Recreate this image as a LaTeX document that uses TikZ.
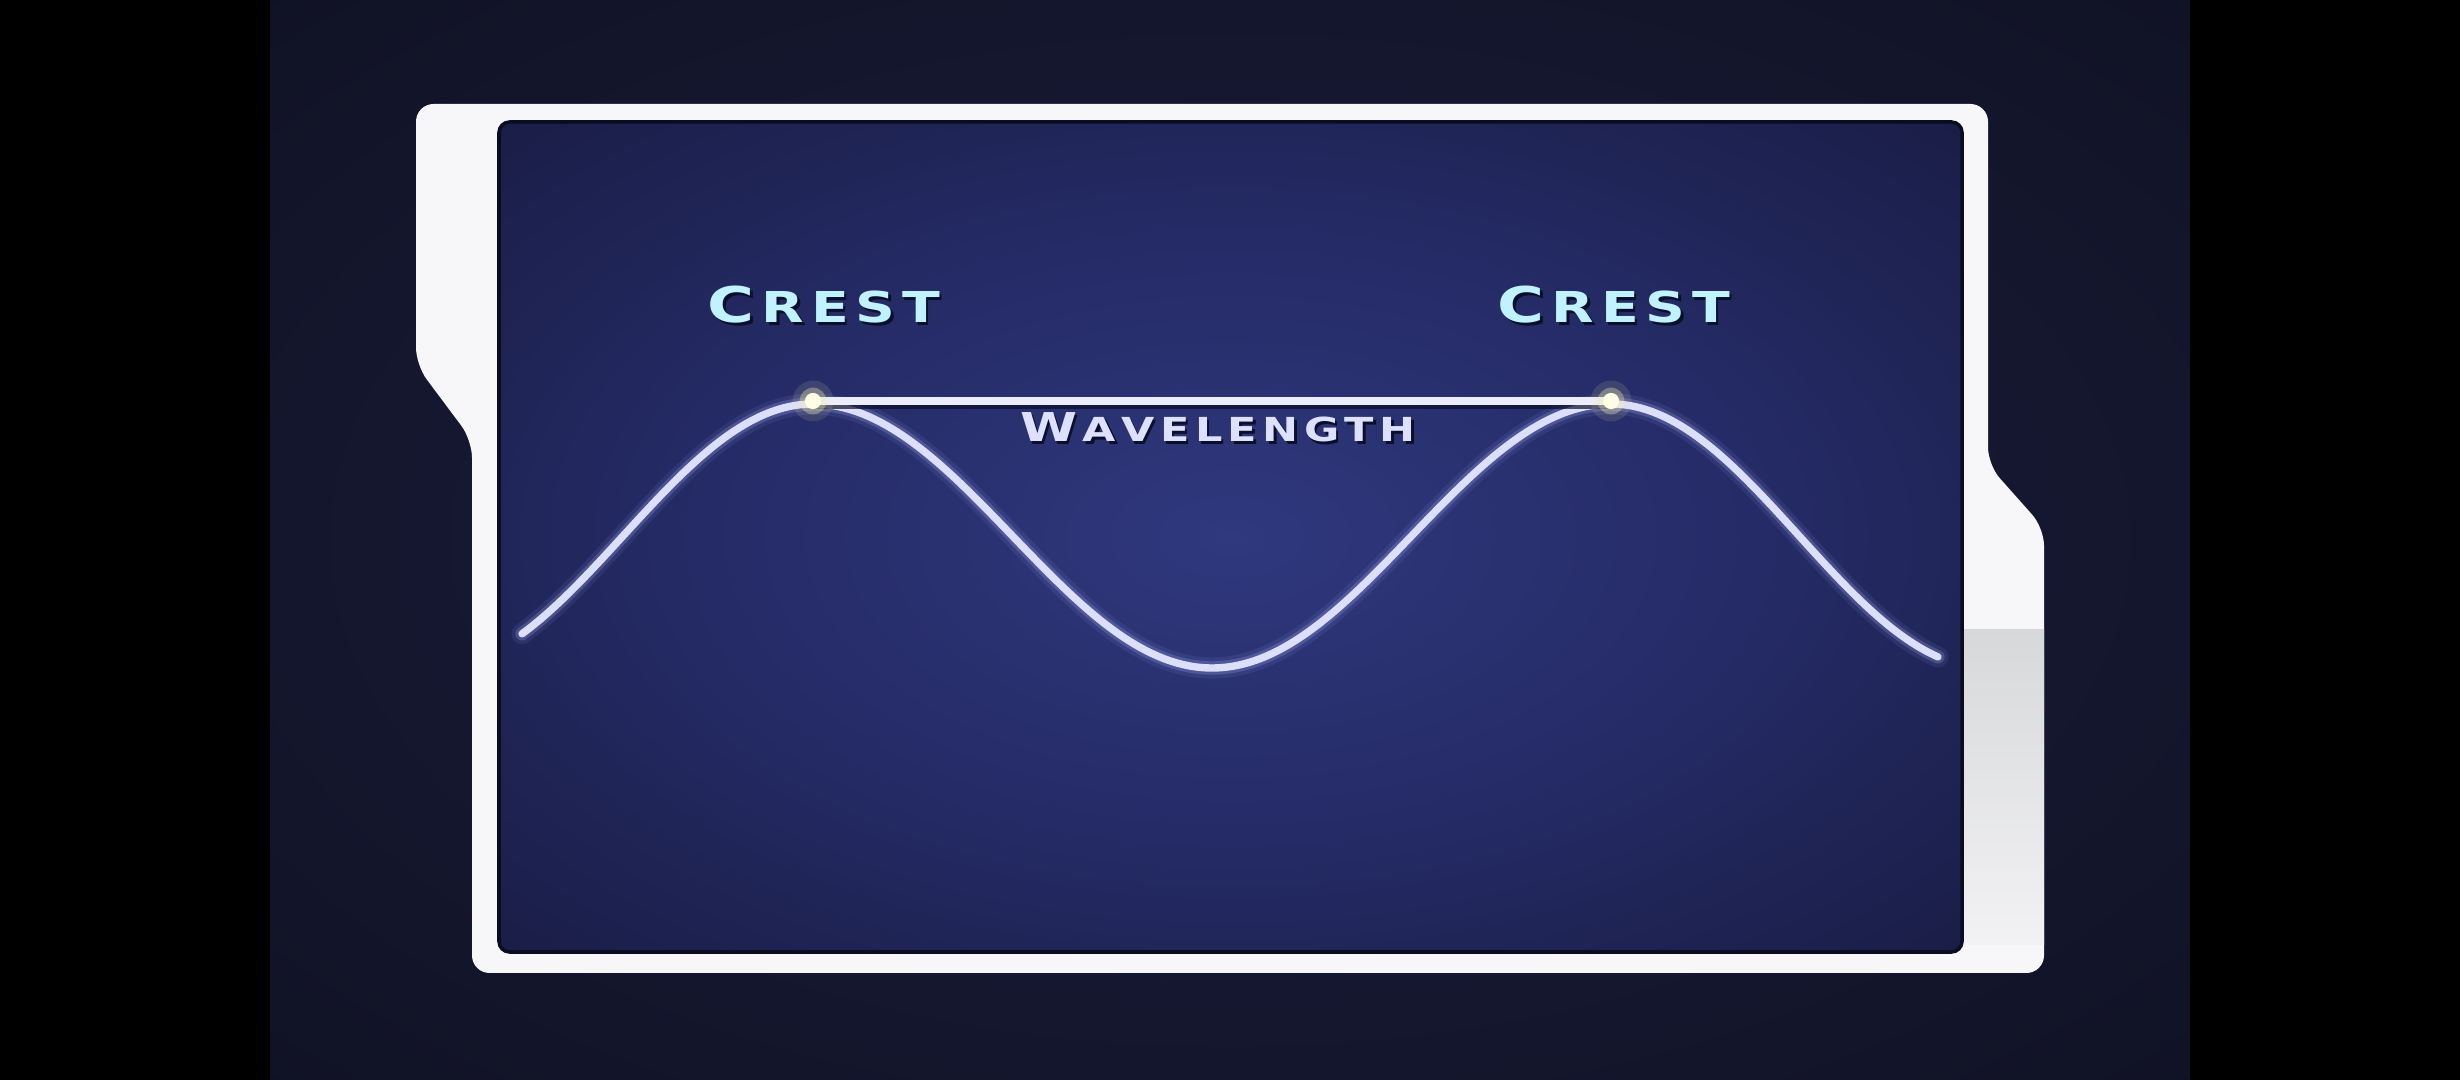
\documentclass[tikz,border=0pt]{standalone}
\usepackage{fontspec}
\usepackage{graphicx}
\setsansfont{DejaVu Sans}
\definecolor{bgin}{HTML}{1B1E40}
\definecolor{bgmid}{HTML}{14162D}
\definecolor{bgout}{HTML}{0B0C18}
\definecolor{panin}{HTML}{30387E}
\definecolor{panmid}{HTML}{252B66}
\definecolor{panout}{HTML}{15183A}
\definecolor{framecol}{HTML}{F7F7F9}
\definecolor{stripA}{HTML}{D7D8DA}
\definecolor{stripB}{HTML}{F2F2F4}
\definecolor{panedgecol}{HTML}{0A0C20}
\definecolor{wavecol}{HTML}{DCDFFA}
\definecolor{glowcol}{HTML}{9CA6F0}
\definecolor{crestcol}{HTML}{C0F2FF}
\definecolor{wavetext}{HTML}{DDE0FF}
\definecolor{shadowcol}{HTML}{0A0F2A}
\definecolor{dotcore}{HTML}{FFFDE6}
\definecolor{dotglow}{HTML}{F2EFB0}
\pgfdeclareradialshading{bgshade}{\pgfpoint{0bp}{0bp}}{color(0bp)=(bgin); color(25bp)=(bgmid); color(50bp)=(bgout); color(100bp)=(bgout)}
\pgfdeclareradialshading{panshade}{\pgfpoint{0bp}{0bp}}{color(0bp)=(panin); color(18bp)=(panmid); color(42bp)=(panout); color(100bp)=(panout)}
\newcommand\crestword{\sffamily\bfseries\scalebox{1.3}[1]{\fontsize{14}{14}\selectfont C\kern1.5pt\fontsize{12.1}{12}\selectfont R\kern1.5pt E\kern1.5pt S\kern1.5pt T}}
\newcommand\waveword{\sffamily\bfseries\scalebox{1.3}[1]{\fontsize{11.3}{11}\selectfont W\kern1.2pt\fontsize{9.4}{9}\selectfont A\kern1.2pt V\kern1.2pt E\kern1.2pt L\kern1.2pt E\kern1.2pt N\kern1.2pt G\kern1.2pt T\kern1.2pt H}}
\newcommand\wavepath{plot[domain=522:813, samples=80] (\x, {536-132*cos(0.4737*(\x-813))})
  -- plot[domain=813:1611, samples=200] (\x, {536-132*cos(0.451128*(\x-813))})
  -- plot[domain=1611:1938, samples=80] (\x, {536-132*cos(0.4782*(\x-1611))})}
\begin{document}
\begin{tikzpicture}[x=0.01cm,y=-0.01cm,
  lbl/.style={inner sep=0pt, anchor=base},
  glowwide/.style={draw=glowcol, line width=6pt, opacity=0.10, line cap=round, line join=round},
  glowmid/.style={draw=glowcol, line width=3.8pt, opacity=0.25, line cap=round, line join=round},
  wavecore/.style={draw=wavecol, line width=2.1pt, line cap=round, line join=round},
  wlline/.style={draw=wavecol!55!white, line width=2.3pt},
  wlshadow/.style={draw=shadowcol, line width=1.6pt, opacity=0.7},
  framefill/.style={fill=framecol, rounded corners=5pt},
  panedge/.style={draw=panedgecol, line width=1pt, rounded corners=3pt}]
\useasboundingbox (0,0) rectangle (2460,1080);
\fill[black] (0,0) rectangle (2460,1080);
\shade[shading=bgshade] (270,0) rectangle (2190,1080);
% white frame
\path[framefill] (416,104) -- (1988,104) -- (1988,465) -- (2044,528) -- (2044,973) -- (472,973) -- (472,440) -- (416,365) -- cycle;
\begin{scope}
  \clip[rounded corners=5pt] (416,104) -- (1988,104) -- (1988,465) -- (2044,528) -- (2044,973) -- (472,973) -- (472,440) -- (416,365) -- cycle;
  \shade[top color=stripA, bottom color=stripB] (1964,630) rectangle (2050,945);
\end{scope}
% panel
\shade[shading=panshade, rounded corners=3pt] (499,122) rectangle (1962,952);
\draw[panedge] (499,122) rectangle (1962,952);
% wave
\draw[glowwide] \wavepath;
\draw[glowmid] \wavepath;
\draw[wavecore] \wavepath;
% crests and wavelength line
\coordinate (c1) at (813,401);
\coordinate (c2) at (1611,401);
\draw[wlshadow] ([yshift=-1.6pt]c1) -- ([yshift=-1.6pt]c2);
\draw[wlline] (c1) -- (c2);
\foreach \c in {c1,c2}{
  \fill[dotglow, opacity=0.12] (\c) circle[radius=5.8pt];
  \fill[dotglow, opacity=0.35] (\c) circle[radius=3.8pt];
  \fill[dotcore] (\c) circle[radius=2.3pt];
}
% labels
\node[lbl, text=shadowcol] (crestLs) at (826.5,326) {\crestword};
\node[lbl, text=crestcol] (crestL) at (824,323) {\crestword};
\node[lbl, text=shadowcol] (crestRs) at (1616.5,326) {\crestword};
\node[lbl, text=crestcol] (crestR) at (1614,323) {\crestword};
\node[lbl, text=shadowcol] (wavels) at (1220.5,445) {\waveword};
\node[lbl, text=wavetext] (wavel) at (1218,442) {\waveword};
\end{tikzpicture}
\end{document}
